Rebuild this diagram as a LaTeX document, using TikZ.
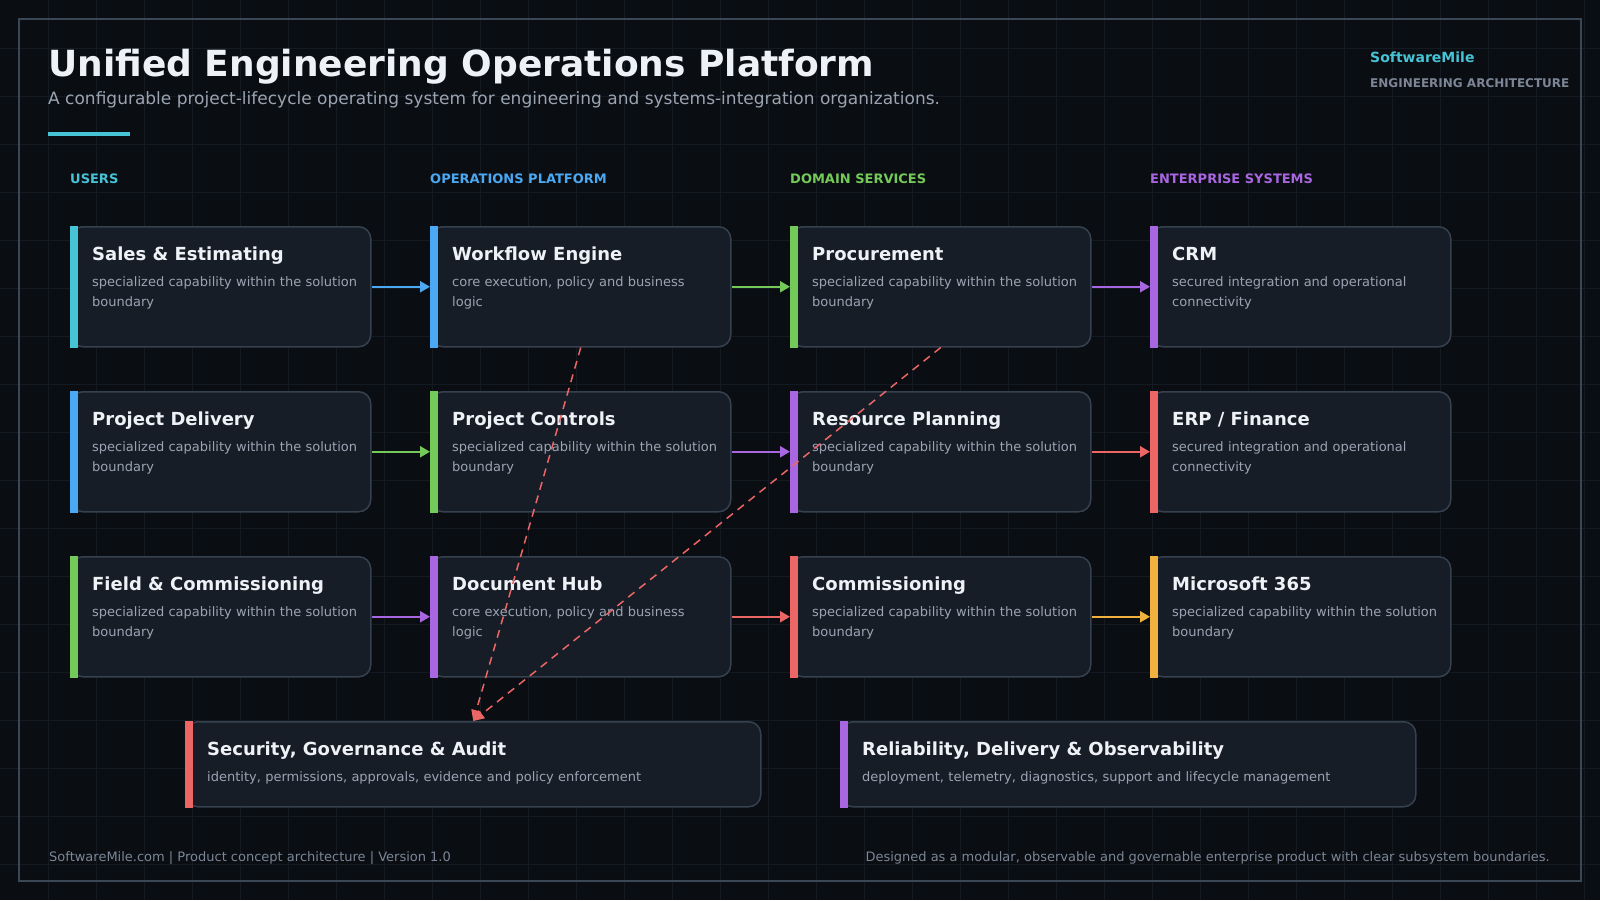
\documentclass[tikz,border=0pt]{standalone}
\usepackage{fontspec}
\setmainfont{DejaVu Sans}
\usetikzlibrary{arrows.meta,positioning}

\definecolor{bg}{HTML}{0A0D12}
\definecolor{gridc}{HTML}{131A22}
\definecolor{panel}{HTML}{171D27}
\definecolor{edge}{HTML}{36414F}
\definecolor{framec}{HTML}{3A4757}
\definecolor{ink}{HTML}{EEF1F6}
\definecolor{muted}{HTML}{9AA4B2}
\definecolor{faint}{HTML}{7C8696}
\definecolor{acCyan}{HTML}{46C3D5}
\definecolor{acBlue}{HTML}{4BA8F2}
\definecolor{acGreen}{HTML}{74CA58}
\definecolor{acPurple}{HTML}{A866E0}
\definecolor{acRed}{HTML}{EC6666}
\definecolor{acOrange}{HTML}{F0B23C}

% card: name, x, y, accent, title, description
\newcommand{\card}[7][]{%
  \node[card,#1] (#2) at (#3,#4) {};
  \fill[#5] (#2.north west) rectangle ([xshift=8pt]#2.south west);
  \node[ctitle] at ([shift={(22pt,-34.5pt)}]#2.north west) {#6};
  \node[cdesc] at ([shift={(22pt,-60.5pt)}]#2.north west) {#7};
}

\begin{document}
\begin{tikzpicture}[
    x=1pt, y=-1pt,
    card/.style={draw=edge, fill=panel, line width=1.5pt, rounded corners=12pt, minimum width=300pt, minimum height=120pt, anchor=north west, inner sep=0pt},
    wide/.style={minimum width=575pt, minimum height=85pt},
    ctitle/.style={anchor=base west, inner sep=0pt, text=ink, font=\fontsize{18}{22}\selectfont\bfseries},
    cdesc/.style={anchor=base west, inner sep=0pt, text=muted, text width=540pt, align=left, font=\fontsize{13}{20}\selectfont},
    head/.style={anchor=base west, inner sep=0pt, font=\fontsize{13}{15}\selectfont\bfseries},
    gridline/.style={gridc, line width=1pt},
    flow/.style={-{Triangle[length=10pt,width=11pt]}, line width=2.2pt},
    link/.style={-{Triangle[length=11pt,width=10pt]}, acRed, line width=1.5pt, dash pattern=on 8pt off 6pt}
]
\fill[bg] (0,0) rectangle (1600,900);
\useasboundingbox (0,0) rectangle (1600,900);
\foreach \g in {48,96,...,1584} \draw[gridline] (\g,0) -- (\g,900);
\foreach \g in {48,96,...,864} \draw[gridline] (0,\g) -- (1600,\g);
\draw[framec, line width=2pt] (19,19) rectangle (1581,881);

% heading
\node[anchor=base west, inner sep=0pt, text=ink, font=\fontsize{36}{43}\selectfont\bfseries] (title) at (48,76) {Unified Engineering Operations Platform};
\node[anchor=base west, inner sep=0pt, text=muted, font=\fontsize{17}{20}\selectfont] (subtitle) at (48,104) {A configurable project-lifecycle operating system for engineering and systems-integration organizations.};
\fill[acCyan] (48,132) rectangle (130,136);
\node[anchor=base west, inner sep=0pt, text=acCyan, font=\fontsize{14}{17}\selectfont\bfseries] (brand) at (1370,62) {SoftwareMile};
\node[anchor=base west, inner sep=0pt, text=faint, font=\fontsize{12}{14}\selectfont\bfseries] (brandsub) at (1370,87.5) {ENGINEERING ARCHITECTURE};

% column heads
\node[head, acCyan] (h1) at (70,183) {USERS};
\node[head, acBlue] (h2) at (430,183) {OPERATIONS PLATFORM};
\node[head, acGreen] (h3) at (790,183) {DOMAIN SERVICES};
\node[head, acPurple] (h4) at (1150,183) {ENTERPRISE SYSTEMS};

% cards
\card{sales}{70}{226}{acCyan}{Sales \& Estimating}{specialized capability within the solution\\boundary}
\card{workflow}{430}{226}{acBlue}{Workflow Engine}{core execution, policy and business\\logic}
\card{procure}{790}{226}{acGreen}{Procurement}{specialized capability within the solution\\boundary}
\card{crm}{1150}{226}{acPurple}{CRM}{secured integration and operational\\connectivity}

\card{delivery}{70}{391}{acBlue}{Project Delivery}{specialized capability within the solution\\boundary}
\card{controls}{430}{391}{acGreen}{Project Controls}{specialized capability within the solution\\boundary}
\card{resource}{790}{391}{acPurple}{Resource Planning}{specialized capability within the solution\\boundary}
\card{erp}{1150}{391}{acRed}{ERP / Finance}{secured integration and operational\\connectivity}

\card{field}{70}{556}{acGreen}{Field \& Commissioning}{specialized capability within the solution\\boundary}
\card{dochub}{430}{556}{acPurple}{Document Hub}{core execution, policy and business\\logic}
\card{commiss}{790}{556}{acRed}{Commissioning}{specialized capability within the solution\\boundary}
\card{msoft}{1150}{556}{acOrange}{Microsoft 365}{specialized capability within the solution\\boundary}

\card[wide]{security}{185}{721}{acRed}{Security, Governance \& Audit}{identity, permissions, approvals, evidence and policy enforcement}
\card[wide]{reliab}{840}{721}{acPurple}{Reliability, Delivery \& Observability}{deployment, telemetry, diagnostics, support and lifecycle management}

% flows
\draw[flow, acBlue] (sales.east) -- (workflow.west);
\draw[flow, acGreen] (workflow.east) -- (procure.west);
\draw[flow, acPurple] (procure.east) -- (crm.west);
\draw[flow, acGreen] (delivery.east) -- (controls.west);
\draw[flow, acPurple] (controls.east) -- (resource.west);
\draw[flow, acRed] (resource.east) -- (erp.west);
\draw[flow, acPurple] (field.east) -- (dochub.west);
\draw[flow, acRed] (dochub.east) -- (commiss.west);
\draw[flow, acOrange] (commiss.east) -- (msoft.west);

\draw[link] (workflow.south) -- (security.north);
\draw[link] (procure.south) -- (security.north);

% footer
\node[anchor=base west, inner sep=0pt, text=faint, font=\fontsize{13}{15}\selectfont] (foot1) at (49,861) {SoftwareMile.com | Product concept architecture | Version 1.0};
\node[anchor=base east, inner sep=0pt, text=faint, font=\fontsize{13}{15}\selectfont] (foot2) at (1550,861) {Designed as a modular, observable and governable enterprise product with clear subsystem boundaries.};
\end{tikzpicture}
\end{document}
